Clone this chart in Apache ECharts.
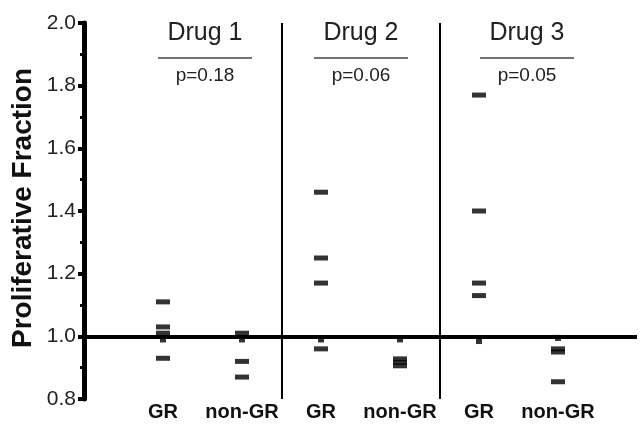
<!DOCTYPE html>
<html>
<head>
<meta charset="utf-8">
<script src="https://cdn.jsdelivr.net/npm/echarts@6/dist/echarts.min.js"></script>
<style>
  html, body { margin: 0; padding: 0; background: #fff; }
  #main { width: 640px; height: 427px; }
</style>
</head>
<body>
<div id="main"></div>
<script>
// group labels under the x axis
var xLabels = ['GR', 'non-GR', 'GR', 'non-GR', 'GR', 'non-GR'];
var drugNames = ['Drug 1', 'Drug 2', 'Drug 3'];
var pValues = ['p=0.18', 'p=0.06', 'p=0.05'];

// proliferative fraction values read per group
var drug1GR = [1.11, 1.03, 1.01, 0.93];
var drug1Non = [1.01, 0.92, 0.87];
var drug2GR = [1.46, 1.25, 1.17, 0.96];
var drug2Non = [0.928, 0.917, 0.906];
var drug3GR = [1.77, 1.40, 1.17, 1.13];
var drug3Non = [0.96, 0.95, 0.855];

// little marks just under the 1.0 line
var nubValues = [0.99, 0.99, 0.99, 0.99, 0.985, 0.995];

var groups = [drug1GR, drug1Non, drug2GR, drug2Non, drug3GR, drug3Non];

var myChart;

function buildPoints() {
    var pts = [];
    for (var i = 0; i < groups.length; i++) {
        for (var j = 0; j < groups[i].length; j++) {
            pts.push([i, groups[i][j]]);
        }
    }
    return pts;
}

function buildNubs() {
    var pts = [];
    for (var i = 0; i < nubValues.length; i++) {
        pts.push([i, nubValues[i]]);
    }
    return pts;
}

function buildHeaders() {
    var centers = [205, 361, 527];
    var els = [];
    for (var i = 0; i < drugNames.length; i++) {
        els.push({
            type: 'text', x: centers[i], y: 33,
            style: { text: drugNames[i], fontSize: 25, fontFamily: 'Liberation Sans', fill: '#222', align: 'center', verticalAlign: 'middle' }
        });
        els.push({
            type: 'line', shape: { x1: centers[i] - 47, y1: 58, x2: centers[i] + 47, y2: 58 },
            style: { stroke: '#444', lineWidth: 1.5 }
        });
        els.push({
            type: 'text', x: centers[i], y: 76,
            style: { text: pValues[i], fontSize: 19, fontFamily: 'Liberation Sans', fill: '#222', align: 'center', verticalAlign: 'middle' }
        });
    }
    els.push({
        type: 'text', x: 23, y: 208, rotation: Math.PI / 2,
        style: { text: 'Proliferative Fraction', fontSize: 28, fontWeight: 'bold', fontFamily: 'Liberation Sans', fill: '#111', align: 'center', verticalAlign: 'middle' }
    });
    return els;
}

function DrawChart() {
    myChart = echarts.init(document.getElementById('main'));
    var option = {
        animation: false,
        backgroundColor: '#fff',
        grid: { left: 84, right: 0, top: 23, bottom: 28 },
        xAxis: {
            type: 'value',
            min: -1,
            max: 6,
            interval: 1,
            axisLine: { show: false },
            axisTick: { show: false },
            splitLine: { show: false },
            axisLabel: {
                margin: 3,
                fontSize: 20,
                fontWeight: 'bold',
                fontFamily: 'Liberation Sans',
                color: '#111',
                formatter: function (v) { return xLabels[v] || ''; }
            }
        },
        yAxis: {
            type: 'value',
            min: 0.8,
            max: 2.0,
            interval: 0.2,
            splitLine: { show: false },
            axisLine: { show: true, onZero: false, lineStyle: { color: '#000', width: 5 } },
            axisTick: { show: true, length: 6, lineStyle: { color: '#000', width: 4 } },
            minorTick: { show: true, splitNumber: 2, length: 4, lineStyle: { color: '#000', width: 3 } },
            axisLabel: {
                margin: 8,
                fontSize: 21,
                fontFamily: 'Liberation Sans',
                color: '#222',
                formatter: function (v) { return v.toFixed(1); }
            }
        },
        graphic: buildHeaders(),
        series: [
            {
                name: 'nub',
                type: 'scatter',
                symbol: 'rect',
                symbolSize: [6, 6],
                itemStyle: { color: '#000' },
                data: buildNubs(),
                z: 1
            },
            {
                name: 'fraction',
                type: 'scatter',
                symbol: 'rect',
                symbolSize: [14, 5],
                itemStyle: { color: '#000' },
                data: buildPoints(),
                z: 2,
                markLine: {
                    silent: true,
                    symbol: 'none',
                    label: { show: false },
                    data: [
                        { yAxis: 1.0, lineStyle: { color: '#000', width: 4, type: 'solid' } },
                        { xAxis: 1.5, lineStyle: { color: '#000', width: 2, type: 'solid' } },
                        { xAxis: 3.5, lineStyle: { color: '#000', width: 2, type: 'solid' } }
                    ]
                }
            }
        ]
    };
    myChart.setOption(option);
}

DrawChart();
</script>
</body>
</html>
